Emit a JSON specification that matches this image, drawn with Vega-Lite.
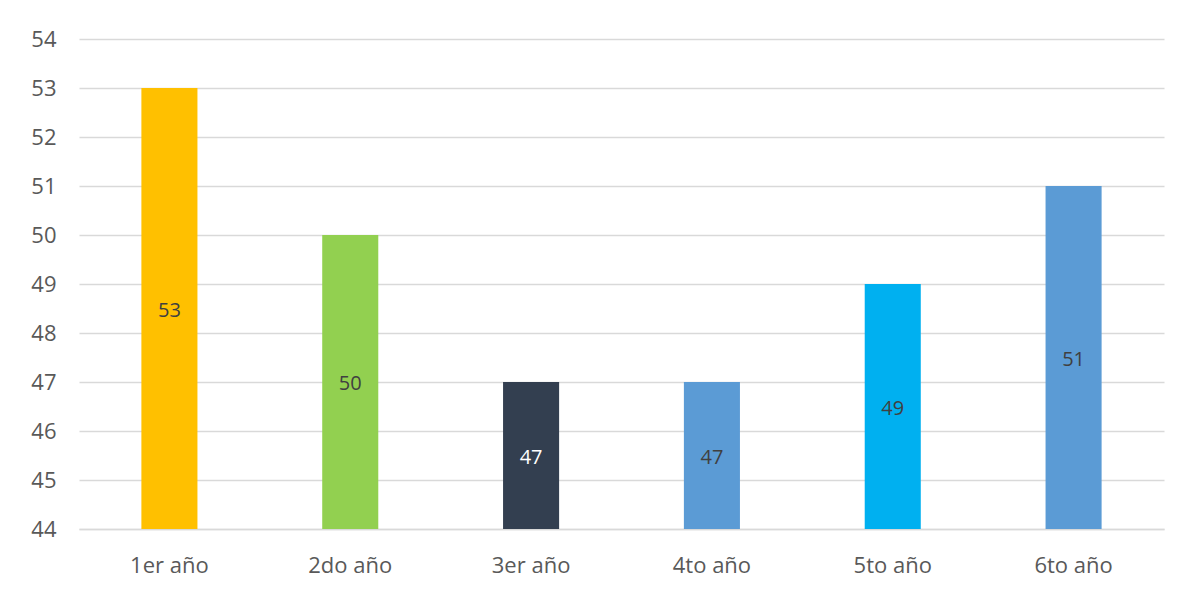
{
  "$schema": "https://vega.github.io/schema/vega-lite/v6.json",
  "width": 1085,
  "height": 490,
  "autosize": {"type": "none"},
  "padding": {"left": 79, "top": 39, "right": 17, "bottom": 60},
  "background": "white",
  "config": {
    "view": {"stroke": null},
    "font": "Open Sans",
    "axisY": {
      "title": null, "values": [44,45,46,47,48,49,50,51,52,53,54],
      "ticks": false, "domain": false, "labelOverlap": false,
      "gridColor": "#d9d9d9", "gridWidth": 1.3,
      "labelFontSize": 22, "labelColor": "#595959", "labelPadding": 23
    }
  },
  "data": {
    "values": [
      {"year": "1er año", "value": 53, "color": "#FFC000", "lc": "#404040"},
      {"year": "2do año", "value": 50, "color": "#92D050", "lc": "#404040"},
      {"year": "3er año", "value": 47, "color": "#333F50", "lc": "#FFFFFF"},
      {"year": "4to año", "value": 47, "color": "#5B9BD5", "lc": "#404040"},
      {"year": "5to año", "value": 49, "color": "#00B0F0", "lc": "#404040"},
      {"year": "6to año", "value": 51, "color": "#5B9BD5", "lc": "#404040"}
    ]
  },
  "encoding": {
    "x": {
      "field": "year", "type": "nominal", "sort": null,
      "scale": {"paddingInner": 0.69, "paddingOuter": 0.345},
      "axis": {
        "title": null, "labelAngle": 0, "ticks": false, "domain": true,
        "domainColor": "#d9d9d9", "domainWidth": 1.3,
        "labelFontSize": 22, "labelColor": "#595959", "labelPadding": 26
      }
    }
  },
  "layer": [
    {
      "mark": {"type": "bar"},
      "encoding": {
        "y": {
          "field": "value", "type": "quantitative", "title": null,
          "scale": {"domain": [44, 54], "zero": false, "nice": false}
        },
        "y2": {"datum": 44},
        "color": {"field": "color", "type": "nominal", "scale": null}
      }
    },
    {
      "transform": [{"calculate": "(datum.value + 44) / 2", "as": "mid"}],
      "mark": {"type": "text", "fontSize": 20, "baseline": "middle", "dy": 2},
      "encoding": {
        "y": {"field": "mid", "type": "quantitative", "title": null},
        "text": {"field": "value", "type": "quantitative"},
        "color": {"field": "lc", "type": "nominal", "scale": null}
      }
    }
  ]
}
